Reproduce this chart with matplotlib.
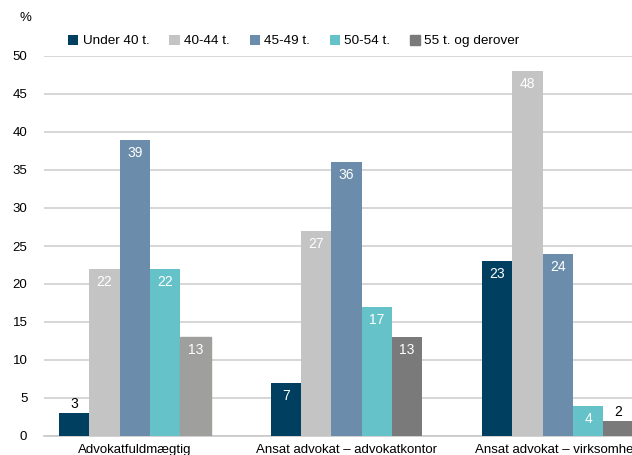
import numpy as np
import matplotlib.pyplot as plt

plt.rcParams['font.family'] = ['Liberation Sans', 'DejaVu Sans']

# Data
categories = ['Advokatfuldmægtig', 'Ansat advokat – advokatkontor', 'Ansat advokat – virksomhed']
series = ['Under 40 t.', '40-44 t.', '45-49 t.', '50-54 t.', '55 t. og derover']
values = [
    [3, 7, 23],
    [22, 27, 48],
    [39, 36, 24],
    [22, 17, 4],
    [13, 13, 2],
]
colors = ['#003f5f', '#c4c4c4', '#6b8dab', '#64c2c8', '#7a7a7a']

fig = plt.figure(figsize=(6.32, 4.55), dpi=100)
ax = fig.add_axes([44 / 632, 1 - 436 / 455, 1 - 44 / 632, 380 / 455])

x = np.arange(len(categories))
width = 0.1435

for i, name in enumerate(series):
    pos = x + (i - 2) * width
    bars = ax.bar(pos, values[i], width, color=colors[i], label=name, zorder=3)
    if i == 4:
        # first group's bar is drawn in a lighter grey in the original
        bars[0].set_color('#9f9f9d')
    for b, v in zip(bars, values[i]):
        cx = b.get_x() + b.get_width() / 2
        if v < 4:
            ax.text(cx, v + 0.3, str(v), ha='center', va='bottom',
                    fontsize=10, color='black')
        else:
            ax.text(cx, v - 0.8, str(v), ha='center', va='top',
                    fontsize=10, color='white')

ax.set_ylim(0, 50)
ax.set_xlim(-0.43, 2.35)
ax.set_yticks(range(0, 51, 5))
ax.set_xticks(x)
ax.set_xticklabels(categories)
ax.tick_params(axis='both', length=0, labelsize=9.5, colors='black')
ax.tick_params(axis='y', pad=12)
ax.tick_params(axis='x', pad=6)
ax.yaxis.grid(True, color='#d0d0d0', linewidth=1.2, zorder=0)
for s in ['top', 'right', 'left']:
    ax.spines[s].set_visible(False)
ax.spines['bottom'].set_color('#c8c8c8')
ax.spines['bottom'].set_linewidth(1.2)

fig.text(25 / 632, 1 - 18 / 455, '%', fontsize=9.5, ha='center', va='center')

handles, labels = ax.get_legend_handles_labels()
handles[4] = plt.Rectangle((0, 0), 1, 1, color=colors[4])
fig.legend(handles, labels, loc='center left', ncol=5, frameon=False,
           bbox_to_anchor=(63 / 632, 1 - 41 / 455), fontsize=9.7,
           handlelength=0.75, handleheight=0.75, handletextpad=0.3,
           columnspacing=1.5, borderaxespad=0)

fig.savefig('out.png', dpi=100)
